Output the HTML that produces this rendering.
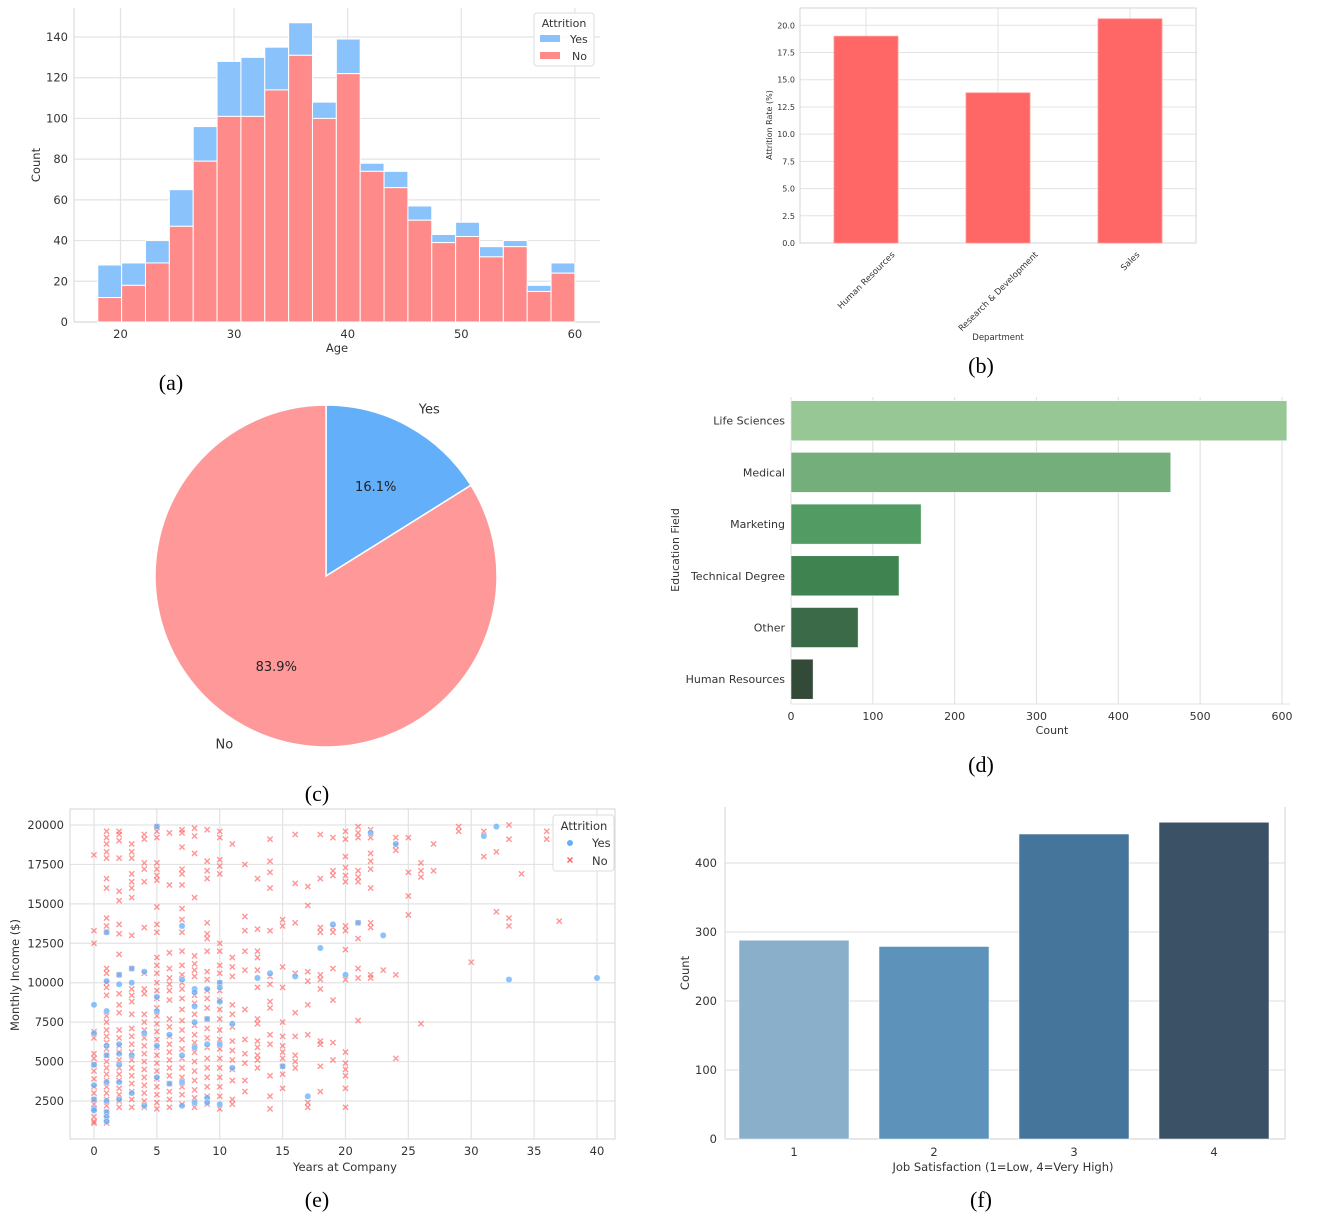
<!DOCTYPE html>
<html><head><meta charset="utf-8">
<style>
html,body{margin:0;padding:0;background:#fff;}
svg{display:block;font-family:"DejaVu Sans","Liberation Sans",sans-serif;}
.cap{font-family:"Liberation Serif",serif;font-size:22px;fill:#000;}
</style></head>
<body>
<svg id="fig" width="1325" height="1222" viewBox="0 0 1325 1222" xmlns="http://www.w3.org/2000/svg">
<g id="pa"></g>
<g id="pb"></g>
<g id="pc"></g>
<g id="pd"></g>
<g id="pe"></g>
<g id="pf"></g>
<text class="cap" x="171" y="390" text-anchor="middle">(a)</text>
<text class="cap" x="981" y="373" text-anchor="middle">(b)</text>
<text class="cap" x="317" y="801" text-anchor="middle">(c)</text>
<text class="cap" x="981" y="772" text-anchor="middle">(d)</text>
<text class="cap" x="317" y="1207" text-anchor="middle">(e)</text>
<text class="cap" x="981" y="1207" text-anchor="middle">(f)</text>
</svg>
<script>
// ---- (a) age histogram data ----
const ageBinStart = [18,20.1,22.2,24.3,26.4,28.5,30.6,32.7,34.8,36.9,39,41.1,43.2,45.3,47.4,49.5,51.6,53.7,55.8,57.9];
const ageNo = [12,18,29,47,79,101,101,114,131,100,122,74,66,50,39,42,32,37,15,24];
const ageYes = [16,11,11,18,17,27,29,21,16,8,17,4,8,7,4,7,5,3,3,5];
const ageYTicks = [0,20,40,60,80,100,120,140];
const ageXTicks = [20,30,40,50,60];
// ---- (b) department data ----
const deptNames = ["Human Resources","Research & Development","Sales"];
const deptRate = [19.0,13.8,20.6];
const deptYTicks = [0,2.5,5,7.5,10,12.5,15,17.5,20];
// ---- (c) pie data ----
const pieLabels = ["Yes","No"];
const pieShares = [16.1,83.9];
// ---- (d) education data ----
const eduFields = ["Life Sciences","Medical","Marketing","Technical Degree","Other","Human Resources"];
const eduCounts = [606,464,159,132,82,27];
const eduXTicks = [0,100,200,300,400,500,600];
// ---- (e) scatter data: [years, incomes in thousands] ----
const scatterNo = [
[0,[18.1,13.3,12.5,6.9,6.5,5.5,5.2,4.8,4.4,3.9,3.4,3.0,2.6,2.3,2.0,1.5,1.2,1.1]],
[1,[19.6,19.2,18.8,18.3,17.9,16.6,16.0,14.1,13.6,13.2,10.9,10.6,10.0,9.7,9.2,7.9,7.5,7.0,6.6,6.2,5.8,5.4,5.0,4.6,4.2,3.8,3.4,3.0,2.6,2.2,1.8,1.4,1.1]],
[2,[19.6,19.4,19.0,17.9,15.8,15.2,13.7,13.1,11.8,10.5,9.3,8.6,8.1,7.0,6.5,6.0,5.6,5.1,4.6,4.2,3.8,3.3,2.9,2.5,2.1]],
[3,[18.8,18.3,17.9,16.9,16.4,16.0,15.4,13.0,10.9,9.6,9.2,8.8,8.0,7.1,6.6,6.1,5.6,5.1,4.6,4.1,3.6,3.1,2.6,2.1]],
[4,[19.4,19.1,17.6,17.2,16.4,13.5,10.6,9.6,9.3,8.0,7.5,7.0,6.5,6.0,5.5,5.0,4.5,4.0,3.5,3.0,2.5,2.1]],
[5,[19.9,19.6,19.2,17.6,17.2,16.8,16.5,14.8,13.7,13.2,11.6,11.1,10.6,10.0,9.5,9.0,8.4,7.9,7.4,6.9,6.4,5.9,5.4,4.9,4.4,3.9,3.4,2.9,2.4,2.0]],
[6,[19.5,16.2,11.9,10.9,10.3,9.9,9.5,8.9,7.7,7.2,6.6,6.1,5.6,5.1,4.6,4.1,3.6,3.1,2.6,2.1]],
[7,[19.7,19.5,18.6,17.2,16.9,16.2,14.7,14.0,13.2,12.0,11.1,10.5,10.0,9.6,9.0,8.3,7.6,7.0,6.4,5.8,5.2,4.6,4.0,3.4,2.9,2.3]],
[8,[19.8,19.3,18.2,15.4,11.7,11.2,10.8,10.4,9.2,8.7,8.0,7.3,6.7,6.2,5.6,5.0,4.4,3.8,3.2,2.7,2.1]],
[9,[19.7,17.7,17.1,16.6,13.8,13.1,12.8,12.0,10.7,10.2,9.5,9.0,8.4,7.7,7.1,6.5,5.9,5.2,4.6,4.0,3.4,2.8,2.3]],
[10,[19.6,19.2,17.8,17.4,16.9,12.5,12.0,11.1,10.6,10.0,9.5,8.9,8.3,7.7,7.0,6.4,5.8,5.2,4.6,4.0,3.4,2.8,2.0]],
[11,[18.8,11.6,11.0,10.4,8.6,8.0,7.2,6.3,5.7,5.1,4.5,3.8,2.6,2.3]],
[12,[17.5,14.2,13.3,12.0,10.8,8.3,6.4,5.5,4.9,3.8,3.1]],
[13,[16.6,13.4,12.0,11.6,10.8,9.7,7.7,7.4,6.3,5.9,5.4,5.1,4.6]],
[14,[19.1,17.7,17.0,16.0,13.3,10.4,9.9,8.8,8.4,6.7,6.1,4.1,2.8,2.0]],
[15,[14.0,13.6,11.0,9.7,7.5,6.6,6.0,5.6,5.2,4.7,4.2,3.3]],
[16,[19.4,16.3,13.8,10.6,8.1,6.6,5.4,5.0,4.6]],
[17,[16.1,14.9,10.7,10.1,8.6,6.7,2.4,2.1]],
[18,[19.4,16.6,13.5,13.2,10.5,10.2,9.6,6.3,6.1,4.7,3.1]],
[19,[19.2,17.1,16.8,13.5,13.2,10.9,8.9,6.2,5.1]],
[20,[19.6,19.1,18.0,17.3,16.8,16.4,13.6,13.3,12.1,10.2,5.6,4.9,4.5,4.1,3.3,2.1]],
[21,[19.9,19.5,19.2,17.1,16.7,16.4,13.8,12.8,10.9,10.3,7.6]],
[22,[19.7,19.2,18.2,17.7,17.2,16.0,13.8,13.5,10.5,10.3]],
[23,[10.8]],[24,[19.2,18.7,18.4,10.5,5.2]],[25,[19.2,17.0,15.5,14.3]],
[26,[17.6,17.1,16.7,7.4]],[27,[18.8,17.1]],[29,[19.9,19.6]],[30,[11.3]],
[31,[19.6,18.0]],[32,[18.3,14.5]],[33,[20.0,19.1,14.1,13.6]],[34,[16.9]],
[36,[19.6,19.1]],[37,[13.9]]
];
const scatterYes = [
[0,[8.6,6.8,4.8,3.5,2.6,2.0,1.9]],[1,[13.2,10.1,8.2,6.0,5.4,3.7,2.5,1.8,1.5,1.2]],
[2,[10.5,9.9,6.1,5.5,4.8,3.7,2.6]],[3,[10.9,10.0,5.4,3.0]],[4,[10.7,6.8,2.2]],
[5,[19.9,9.1,8.2,6.0,4.0]],[6,[6.7,3.6]],[7,[13.6,10.2,5.4,3.7,2.2]],
[8,[9.6,9.4,8.5,7.5,5.9,2.4]],[9,[9.6,7.7,6.1,2.7,2.4]],[10,[10.0,9.7,8.8,6.1,2.3]],
[11,[7.4,4.6]],[13,[10.3]],[14,[10.6]],[15,[4.7]],[16,[10.4]],[17,[2.8]],[18,[12.2]],
[19,[13.7]],[20,[10.5]],[21,[13.8]],[22,[19.5]],[23,[13.0]],[24,[18.8]],
[31,[19.3]],[32,[19.9]],[33,[10.2]],[40,[10.3]]
];
const incYTicks = [2500,5000,7500,10000,12500,15000,17500,20000];
const yearXTicks = [0,5,10,15,20,25,30,35,40];
// ---- (f) job satisfaction data ----
const jsLevels = ["1","2","3","4"];
const jsCounts = [288,279,442,459];
const jsYTicks = [0,100,200,300,400];

const NS="http://www.w3.org/2000/svg";
function mk(parent,tag,attrs,text){
  const e=document.createElementNS(NS,tag);
  for(const k in attrs) e.setAttribute(k,attrs[k]);
  if(text!==undefined) e.textContent=text;
  parent.appendChild(e); return e;
}
const GRID="#e3e3e3", SPINE="#d6d6d6", TXT="#333";

// ===== (a) =====
(function(){
  const g=document.getElementById('pa');
  const L=74,R=600,T=8,B=322;
  const x=a=>120.5+(a-20)*11.36;
  const y=v=>B-v*(B-37)/140;
  ageYTicks.forEach(t=>{
    const l=mk(g,'line',{x1:L,x2:R,y1:y(t),y2:y(t),stroke:GRID,'stroke-width':1.2});
    
    const s=mk(g,'text',{x:L-6,y:y(t)+4,'text-anchor':'end','font-size':11.5,fill:TXT},String(t));
    
  });
  ageXTicks.forEach(t=>{
    const l=mk(g,'line',{x1:x(t),x2:x(t),y1:T,y2:B,stroke:GRID,'stroke-width':1.2});
    
    const s=mk(g,'text',{x:x(t),y:B+16,'text-anchor':'middle','font-size':11.5,fill:TXT},String(t));
    
  });
  mk(g,'line',{x1:L,x2:L,y1:T,y2:B,stroke:SPINE});
  mk(g,'line',{x1:L,x2:R,y1:B,y2:B,stroke:SPINE});
  ageBinStart.forEach((a,i)=>{
    const x0=x(a),x1=x(a+2.1);
    const tot=ageNo[i]+ageYes[i];
    const by=mk(g,'rect',{x:x0,y:y(tot),width:x1-x0,height:y(ageNo[i])-y(tot),fill:'#8ac2fb',stroke:'#fff','stroke-width':1});
    
    const bn=mk(g,'rect',{x:x0,y:y(ageNo[i]),width:x1-x0,height:B-y(ageNo[i]),fill:'#ff8a8a',stroke:'#fff','stroke-width':1});
    
  });
  const xl=mk(g,'text',{x:337,y:352,'text-anchor':'middle','font-size':11.5,fill:TXT},'Age');
  
  const yl=mk(g,'text',{x:40,y:165,'text-anchor':'middle','font-size':11.5,fill:TXT,transform:'rotate(-90 40 165)'},'Count');
  
  const lg=mk(g,'g',{});
  
  mk(lg,'rect',{x:534,y:13,width:60,height:53,rx:3,fill:'#fff','fill-opacity':0.85,stroke:'#ddd'});
  mk(lg,'text',{x:564,y:27,'text-anchor':'middle','font-size':11,fill:TXT},'Attrition');
  mk(lg,'rect',{x:540,y:35,width:20,height:7,fill:'#8ac2fb'});
  mk(lg,'text',{x:570,y:43,'font-size':11,fill:TXT},'Yes');
  mk(lg,'rect',{x:540,y:52,width:20,height:7,fill:'#ff8a8a'});
  mk(lg,'text',{x:572,y:60,'font-size':11,fill:TXT},'No');
})();

// ===== (b) =====
(function(){
  const g=document.getElementById('pb');
  const L=800,R=1196,T=8,B=243;
  const y=v=>B-v*(B-25.3)/20;
  const xc=i=>866+i*132;
  deptYTicks.forEach(t=>{
    const l=mk(g,'line',{x1:L,x2:R,y1:y(t),y2:y(t),stroke:GRID});
    
    const s=mk(g,'text',{x:L-5,y:y(t)+3,'text-anchor':'end','font-size':8,fill:TXT},t.toFixed(1));
    
  });
  deptNames.forEach((n,i)=>{
    mk(g,'line',{x1:xc(i),x2:xc(i),y1:T,y2:B,stroke:GRID});
  });
  mk(g,'rect',{x:L,y:T,width:R-L,height:B-T,fill:'none',stroke:SPINE});
  deptNames.forEach((n,i)=>{
    const b=mk(g,'rect',{x:xc(i)-32,y:y(deptRate[i]),width:64,height:B-y(deptRate[i]),fill:'#ff6666',stroke:'#ff9a9a','stroke-width':0.8});
    
    const s=mk(g,'text',{x:0,y:0,'text-anchor':'middle','font-size':8.5,fill:TXT},n);
    
    const len=s.getComputedTextLength();
    const half=len/(2*Math.SQRT2);
    const cx=xc(i), cy=B+7+half+3;
    s.setAttribute('x',cx);s.setAttribute('y',cy+3);
    s.setAttribute('transform',`rotate(-45 ${cx} ${cy})`);
  });
  const xl=mk(g,'text',{x:998,y:340,'text-anchor':'middle','font-size':8.5,fill:TXT},'Department');
  
  const yl=mk(g,'text',{x:772,y:125,'text-anchor':'middle','font-size':8,fill:TXT,transform:'rotate(-90 772 125)'},'Attrition Rate (%)');
  
})();

// ===== (c) =====
(function(){
  const g=document.getElementById('pc');
  const cx=326,cy=576,r=171;
  const total=pieShares.reduce((a,b)=>a+b,0);
  const cols=['#64aff9','#ff9999'];
  let a0=0;
  pieShares.forEach((v,i)=>{
    const a1=a0+v/total*2*Math.PI;
    const p=(a)=>[cx+r*Math.sin(a),cy-r*Math.cos(a)];
    const [x0,y0]=p(a0),[x1,y1]=p(a1);
    const large=(a1-a0)>Math.PI?1:0;
    const s=mk(g,'path',{d:`M${cx},${cy} L${x0},${y0} A${r},${r} 0 ${large} 1 ${x1},${y1} Z`,fill:cols[i],stroke:'#fff','stroke-width':1.5});
    
    const mid=(a0+a1)/2;
    const lx=cx+r*1.12*Math.sin(mid), ly=cy-r*1.12*Math.cos(mid);
    const lab=mk(g,'text',{x:lx,y:ly+5,'text-anchor':Math.sin(mid)>=0?'start':'end','font-size':13,fill:TXT},pieLabels[i]);
    
    const px=cx+r*0.6*Math.sin(mid), py=cy-r*0.6*Math.cos(mid);
    const pt=mk(g,'text',{x:px,y:py+5,'text-anchor':'middle','font-size':13,fill:'#222'},v.toFixed(1)+'%');
    
    a0=a1;
  });
})();

// ===== (d) =====
(function(){
  const g=document.getElementById('pd');
  const L=791,T=397,B=704;
  const x=v=>L+v*(1282-791)/600;
  const yc=i=>420.7+i*51.7;
  const cols=['#96c794','#74af7b','#529c63','#3e8350','#3b6a49','#344a39'];
  eduXTicks.forEach(t=>{
    const l=mk(g,'line',{x1:x(t),x2:x(t),y1:T,y2:B,stroke:GRID,'stroke-width':1.2});
    
    const s=mk(g,'text',{x:x(t),y:B+16,'text-anchor':'middle','font-size':11,fill:TXT},String(t));
    
  });
  mk(g,'line',{x1:L,x2:1290,y1:B,y2:B,stroke:GRID});
  eduFields.forEach((f,i)=>{
    const b=mk(g,'rect',{x:L,y:yc(i)-20,width:x(eduCounts[i])-L,height:40,fill:cols[i],stroke:'#fff','stroke-width':0.5});
    
    const s=mk(g,'text',{x:L-6,y:yc(i)+4,'text-anchor':'end','font-size':11,fill:TXT},f);
    
  });
  const xl=mk(g,'text',{x:1052,y:734,'text-anchor':'middle','font-size':11,fill:TXT},'Count');
  
  const yl=mk(g,'text',{x:679,y:550,'text-anchor':'middle','font-size':11,fill:TXT,transform:'rotate(-90 679 550)'},'Education Field');
  
})();

// ===== (e) =====
(function(){
  const g=document.getElementById('pe');
  const L=70,R=615,T=809,B=1139;
  const x=v=>94+v*(597-94)/40;
  const y=v=>1101-(v-2500)*(1101-825)/17500;
  incYTicks.forEach(t=>{
    const l=mk(g,'line',{x1:L,x2:R,y1:y(t),y2:y(t),stroke:GRID,'stroke-width':1.2});
    
    const s=mk(g,'text',{x:L-6,y:y(t)+4,'text-anchor':'end','font-size':11.5,fill:TXT},String(t));
    
  });
  yearXTicks.forEach(t=>{
    const l=mk(g,'line',{x1:x(t),x2:x(t),y1:T,y2:B,stroke:GRID,'stroke-width':1.2});
    
    const s=mk(g,'text',{x:x(t),y:B+16,'text-anchor':'middle','font-size':11.5,fill:TXT},String(t));
    
  });
  mk(g,'rect',{x:L,y:T,width:R-L,height:B-T,fill:'none',stroke:SPINE});
  scatterNo.forEach(([yr,vals])=>vals.forEach(v=>{
    const px=x(yr),py=y(v*1000),d=2.6;
    const p=mk(g,'path',{d:`M${px-d},${py-d}L${px+d},${py+d}M${px-d},${py+d}L${px+d},${py-d}`,stroke:'#ff5c5c','stroke-opacity':0.65,'stroke-width':1.4});
    
  }));
  scatterYes.forEach(([yr,vals])=>vals.forEach(v=>{
    const c=mk(g,'circle',{cx:x(yr),cy:y(v*1000),r:3.2,fill:'#64aff9','fill-opacity':0.75,stroke:'#fff','stroke-width':0.4});
    
  }));
  const lg=mk(g,'g',{});
  
  mk(lg,'rect',{x:553,y:815,width:61,height:56,rx:3,fill:'#fff','fill-opacity':0.85,stroke:'#ddd'});
  mk(lg,'text',{x:584,y:830,'text-anchor':'middle','font-size':11.5,fill:TXT},'Attrition');
  mk(lg,'circle',{cx:570,cy:843,r:3,fill:'#64aff9'});
  mk(lg,'text',{x:592,y:847,'font-size':11.5,fill:TXT},'Yes');
  mk(lg,'path',{d:'M567.5,857.5L572.5,862.5M567.5,862.5L572.5,857.5',stroke:'#ff5c5c','stroke-width':1.3});
  mk(lg,'text',{x:592,y:865,'font-size':11.5,fill:TXT},'No');
  const xl=mk(g,'text',{x:345,y:1171,'text-anchor':'middle','font-size':11.5,fill:TXT},'Years at Company');
  
  const yl=mk(g,'text',{x:19,y:975,'text-anchor':'middle','font-size':11.5,fill:TXT,transform:'rotate(-90 19 975)'},'Monthly Income ($)');
  
})();

// ===== (f) =====
(function(){
  const g=document.getElementById('pf');
  const L=725,R=1285,T=807,B=1139;
  const y=v=>B-v*(B-863)/400;
  const xc=i=>794+i*140;
  const cols=['#89afca','#5d93bb','#45759a','#3b5166'];
  jsYTicks.forEach(t=>{
    const l=mk(g,'line',{x1:L,x2:R,y1:y(t),y2:y(t),stroke:GRID,'stroke-width':1.2});
    
    const s=mk(g,'text',{x:L-8,y:y(t)+4,'text-anchor':'end','font-size':11.5,fill:TXT},String(t));
    
  });
  mk(g,'line',{x1:L,x2:L,y1:T,y2:B,stroke:SPINE});
  mk(g,'line',{x1:R,x2:R,y1:T,y2:B,stroke:SPINE});
  mk(g,'line',{x1:L,x2:R,y1:B,y2:B,stroke:SPINE});
  jsLevels.forEach((lv,i)=>{
    const b=mk(g,'rect',{x:xc(i)-55,y:y(jsCounts[i]),width:110,height:B-y(jsCounts[i]),fill:cols[i],stroke:'#fff','stroke-width':0.5});
    
    const s=mk(g,'text',{x:xc(i),y:B+17,'text-anchor':'middle','font-size':11.5,fill:TXT},lv);
    
  });
  const xl=mk(g,'text',{x:1003,y:1171,'text-anchor':'middle','font-size':11.5,fill:TXT},'Job Satisfaction (1=Low, 4=Very High)');
  
  const yl=mk(g,'text',{x:689,y:973,'text-anchor':'middle','font-size':11.5,fill:TXT,transform:'rotate(-90 689 973)'},'Count');
  
})();
</script>
</body></html>
